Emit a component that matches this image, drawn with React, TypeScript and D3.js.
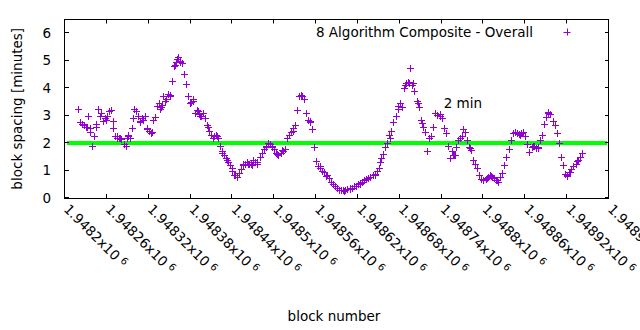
import React from "react";
import * as d3 from "d3";

// ---- data ----
const firstBlock = 1948218;
const blockStep = 3;
const spacingMinutes: number[] = [
  3.25, 2.75, 2.7, 2.65, 2.6, 3.0, 2.4, 1.9, 2.25, 2.7,
  3.25, 3.1, 2.8, 2.9, 3.0, 3.15, 3.2, 2.55, 2.25, 2.2,
  2.2, 2.15, 1.95, 1.9, 2.25, 2.2, 2.55, 3.25, 3.15, 3.0,
  2.8, 2.9, 3.0, 2.55, 2.45, 2.35, 2.85, 2.95, 3.35, 3.45,
  3.3, 3.7, 3.55, 3.8, 3.75, 4.25, 4.8, 4.95, 5.15, 5.0,
  4.9, 4.5, 4.15, 3.7, 3.5, 3.6, 3.1, 3.2, 3.05, 3.0,
  3.1, 2.9, 2.65, 2.45, 2.3, 2.25, 2.3, 2.2, 1.9, 1.7,
  1.55, 1.45, 1.3, 1.2, 1.0, 0.85, 0.75, 0.9, 1.05, 1.25,
  1.25, 1.3, 1.25, 1.25, 1.4, 1.3, 1.25, 1.5, 1.65, 1.8,
  1.9, 2.0, 1.95, 1.9, 1.8, 1.65, 1.55, 1.65, 1.7, 1.8,
  2.2, 2.3, 2.4, 2.55, 2.65, 3.2, 3.7, 3.75, 3.6, 3.1,
  2.85, 2.8, 2.5, 1.85, 1.35, 1.15, 1.1, 1.0, 0.95, 0.85,
  0.72, 0.6, 0.5, 0.42, 0.37, 0.3, 0.28, 0.3, 0.3, 0.33,
  0.35, 0.38, 0.42, 0.45, 0.5, 0.55, 0.6, 0.65, 0.68, 0.72,
  0.78, 0.82, 0.88, 0.97, 1.1, 1.45, 1.6, 1.85, 2.0, 2.3,
  2.45, 2.75, 3.0, 3.35, 3.45, 3.3, 4.0, 4.2, 4.24, 4.73,
  4.12, 3.9, 3.55, 3.3, 2.85, 2.6, 2.42, 1.7, 2.18, 2.24,
  2.6, 3.1, 3.03, 3.0, 2.9, 2.55, 2.35, 1.88, 1.45, 1.7,
  1.58, 1.85, 2.12, 2.2, 2.5, 2.42, 2.12, 1.85, 1.75, 1.39,
  1.25, 1.1, 0.85, 0.68, 0.67, 0.7, 0.76, 0.82, 0.76, 0.72,
  0.67, 0.6, 0.75, 0.9, 1.2, 1.5, 1.8, 2.1, 2.36, 2.42,
  2.36, 2.32, 2.38, 2.4, 2.25, 1.95, 1.66, 1.85, 1.88, 1.82,
  1.85, 2.12, 2.3, 2.7, 2.95, 3.12, 3.05, 2.8, 2.67, 2.36,
  2.0, 1.5, 1.2, 0.88, 0.82, 0.95, 1.05, 1.15, 1.25, 1.38,
  1.5, 1.65,
];
const blocks: number[] = spacingMinutes.map((_, i) => firstBlock + i * blockStep);

// further readings of blocks in between (clusters / scatter)
const extraBlocks: number[] = [
  1948232, 1948236, 1948245, 1948250, 1948259, 1948269, 1948275, 1948279, 1948289, 1948290,
  1948298, 1948308, 1948312, 1948318, 1948325, 1948336, 1948339, 1948345, 1948351, 1948358,
  1948361, 1948365, 1948379, 1948384, 1948391, 1948394, 1948405, 1948412, 1948418, 1948425,
  1948432, 1948439, 1948444, 1948455, 1948462, 1948468, 1948475, 1948488, 1948497, 1948504,
  1948511, 1948527, 1948540, 1948551, 1948566, 1948574, 1948600, 1948609, 1948623, 1948637,
  1948645, 1948652, 1948666, 1948678, 1948688, 1948693, 1948699, 1948706, 1948712, 1948733,
  1948738, 1948756, 1948759, 1948769, 1948781, 1948799, 1948805, 1948811, 1948820, 1948845,
  1948852, 1948871, 1948878, 1948893, 1948900, 1948920, 1948924, 1948934,
];
const extraMinutes: number[] = [
  2.6, 2.55, 2.6, 3.0, 2.85, 2.8, 2.25, 2.2, 2.2, 2.3,
  2.9, 2.75, 2.85, 2.5, 2.4, 3.25, 3.4, 3.6, 3.7, 4.85,
  5.05, 4.95, 3.45, 3.55, 3.15, 3.0, 2.6, 2.2, 2.25, 1.65,
  1.4, 1.1, 0.85, 1.2, 1.25, 1.2, 1.3, 1.85, 1.85, 1.6,
  1.75, 2.45, 3.7, 2.75, 1.15, 0.8, 0.25, 0.32, 0.52, 0.75,
  0.85, 1.3, 2.2, 3.25, 4.1, 4.2, 4.2, 3.45, 2.73, 3.03,
  3.05, 1.58, 1.55, 2.24, 1.82, 0.65, 0.73, 0.79, 0.67, 2.42,
  2.3, 1.88, 1.82, 3.1, 2.79, 0.79, 0.95, 1.33,
];

const xTicks: number[] = [
  1948200, 1948260, 1948320, 1948380, 1948440, 1948500, 1948560,
  1948620, 1948680, 1948740, 1948800, 1948860, 1948920, 1948980,
];
const xTickLabels: string[] = [
  "1.9482", "1.94826", "1.94832", "1.94838", "1.94844", "1.9485", "1.94856",
  "1.94862", "1.94868", "1.94874", "1.9488", "1.94886", "1.94892", "1.94898",
];
const yTicks: number[] = [0, 1, 2, 3, 4, 5, 6];
const targetMinutes = 2;
const seriesName = "8 Algorithm Composite - Overall";
const targetLabel = "2 min";
const targetLabelPos = { block: 1948743, value: 3.45 };

const FONT = "'DejaVu Sans', sans-serif";
const PURPLE = "#9400d3";
const GREEN = "#00ff00";

export default function App() {
  const left = 65, right = 609, top = 19.5, bottom = 198;
  const x = d3.scaleLinear().domain([1948200, 1948980]).range([left, right]);
  const y = d3.scaleLinear().domain([0, 6.5]).range([bottom, top]);
  const fs = 13.5;
  const arm = 3.5;

  const crisp = (v: number) => Math.round(v) + 0.5;

  const plus = (b: number, v: number) => {
    const px = crisp(x(b));
    const py = crisp(y(v));
    return `M${px - arm},${py}h${arm * 2}M${px},${py - arm}v${arm * 2}`;
  };
  const markerPath =
    blocks.map((b, i) => plus(b, spacingMinutes[i])).join("") +
    extraBlocks.map((b, i) => plus(b, extraMinutes[i])).join("");

  return (
    <svg
      width={640}
      height={330}
      style={{ position: "absolute", left: 0, top: 0, background: "#fff" }}
      fontFamily={FONT}
    >
      <rect x={0} y={0} width={640} height={330} fill="#fff" />
      {/* target line */}
      <line
        x1={x(1948200) + 2}
        x2={x(1948980) - 2}
        y1={y(targetMinutes)}
        y2={y(targetMinutes)}
        stroke={GREEN}
        strokeWidth={4}
      />
      {/* points */}
      <path d={markerPath} stroke={PURPLE} strokeWidth={1} fill="none" />

      {/* border */}
      <rect
        x={crisp(left) - 1}
        y={crisp(top) - 1}
        width={Math.round(right - left)}
        height={Math.round(bottom - top)}
        fill="none"
        stroke="#000"
        strokeWidth={1}
      />
      {/* y ticks */}
      {yTicks.map((t) => {
        const py = crisp(y(t)) - 1;
        return (
          <g key={"y" + t}>
            <line x1={left} x2={left + 4} y1={py} y2={py} stroke="#000" />
            <line x1={right - 4} x2={right} y1={py} y2={py} stroke="#000" />
            <text x={51} y={y(t) + 4.8} textAnchor="end" fontSize={fs} fill="#000">
              {t}
            </text>
          </g>
        );
      })}
      {/* x ticks */}
      {xTicks.map((t, i) => {
        const px = crisp(x(t)) - 1;
        return (
          <g key={"x" + t}>
            <line x1={px} x2={px} y1={bottom} y2={bottom - 4} stroke="#000" />
            <line x1={px} x2={px} y1={top} y2={top + 4} stroke="#000" />
            <text
              transform={`translate(${x(t) - 2},${bottom + 12}) rotate(45)`}
              fontSize={fs}
              fill="#000"
            >
              {xTickLabels[i]}x10
              <tspan fontSize={10} dx={4} dy={-4}>6</tspan>
            </text>
          </g>
        );
      })}
      {/* axis titles */}
      <text
        transform={`translate(22,${(top + bottom) / 2}) rotate(-90)`}
        textAnchor="middle"
        fontSize={fs}
        fill="#000"
      >
        block spacing [minutes]
      </text>
      <text x={334} y={321} textAnchor="middle" fontSize={fs} fill="#000">
        block number
      </text>
      {/* legend */}
      <text x={533} y={37} textAnchor="end" fontSize={fs} fill="#000">
        {seriesName}
      </text>
      <path
        d={`M${567 - arm},32.5h${arm * 2}M567.5,${32.5 - arm - 0.5}v${arm * 2}`}
        stroke={PURPLE}
        strokeWidth={1}
      />
      {/* label */}
      <text
        x={x(targetLabelPos.block)}
        y={y(targetLabelPos.value) + 5}
        fontSize={fs}
        fill="#000"
      >
        {targetLabel}
      </text>
    </svg>
  );
}
